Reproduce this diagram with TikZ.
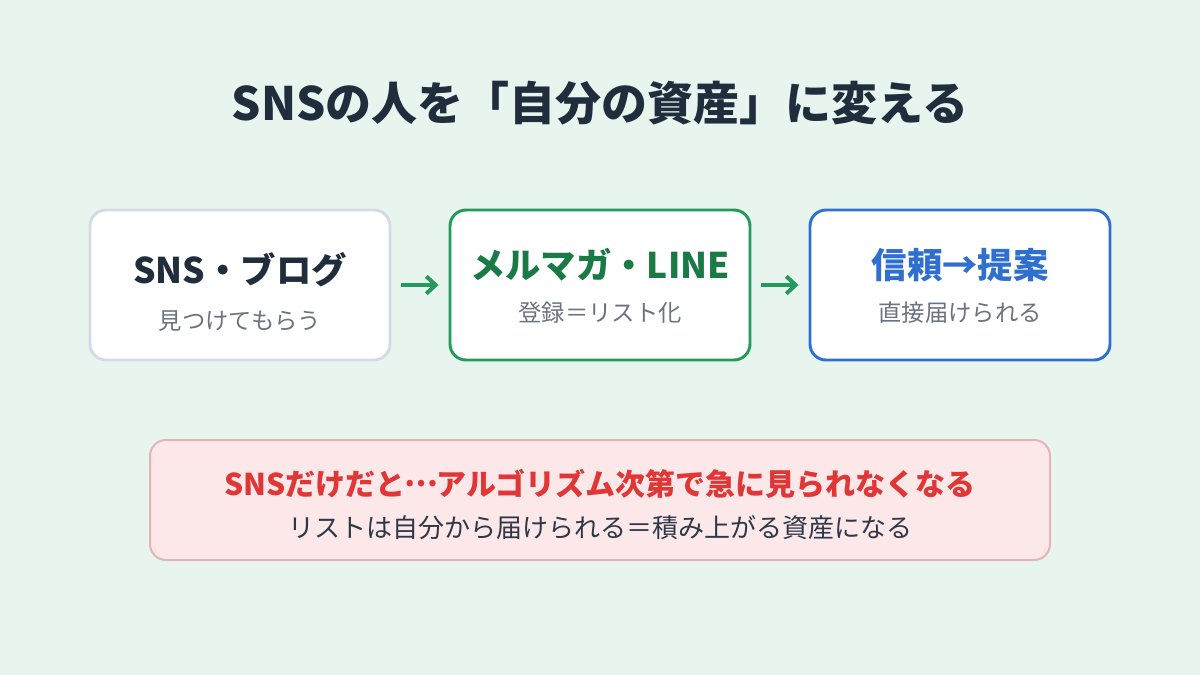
\documentclass[tikz,border=0pt]{standalone}
\usepackage{fontspec}
\setmainfont{Noto Sans CJK JP}
\usetikzlibrary{arrows.meta}
\definecolor{bg}{HTML}{E8F5EE}
\definecolor{ink}{HTML}{1F2D3D}
\definecolor{sub}{HTML}{6B7280}
\definecolor{graybd}{HTML}{D3DCE6}
\definecolor{greenbd}{HTML}{239A5B}
\definecolor{greentx}{HTML}{1A7A45}
\definecolor{bluebd}{HTML}{2F6FD0}
\definecolor{redtx}{HTML}{E03636}
\definecolor{redfill}{HTML}{FCE8E8}
\definecolor{redbd}{HTML}{E6B4B4}
\definecolor{dark2}{HTML}{2D3748}
\tikzset{
  card/.style={rounded corners=12pt, line width=2.2pt, fill=white, minimum width=225pt, minimum height=112.5pt},
  ttl/.style={font=\bfseries\fontsize{26.5}{30}\selectfont, inner sep=0pt},
  subt/.style={font=\fontsize{17.5}{20}\selectfont, text=sub, inner sep=0pt},
  flow/.style={draw=greenbd, line width=3pt, -{Straight Barb[length=7pt,width=13pt,line width=3pt]}, shorten <=7.5pt, shorten >=7.5pt}
}
\begin{document}
\begin{tikzpicture}[x=0.75pt,y=-0.75pt]
\useasboundingbox (0,0) rectangle (1200,675);
\fill[bg] (0,0) rectangle (1200,675);
\node[font=\bfseries\fontsize{34.5}{38}\selectfont, text=ink, inner sep=0pt] (title) at (600,103) {SNSの人を「自分の資産」に変える};

\node[card, draw=graybd] (b1) at (240,285) {};
\node[card, draw=greenbd] (b2) at (600,285) {};
\node[card, draw=bluebd] (b3) at (960,285) {};

\node[ttl, text=ink] (t1) at (240,270) {SNS・ブログ};
\node[subt] (s1) at (240,321) {見つけてもらう};
\node[ttl, text=greentx] (t2) at (600,265) {メルマガ・LINE};
\node[subt] (s2) at (600,313) {登録＝リスト化};
\node[ttl, text=bluebd] (t3) at (960,265) {信頼→提案};
\node[subt] (s3) at (960,313) {直接届けられる};

\draw[flow] (b1.east) -- (b2.west);
\draw[flow] (b2.east) -- (b3.west);

\node[rounded corners=12pt, line width=1.5pt, draw=redbd, fill=redfill, minimum width=675pt, minimum height=90pt] (warn) at (600,500) {};
\node[font=\bfseries\fontsize{22.5}{26}\selectfont, text=redtx, inner sep=0pt] (w1) at (600,484) {SNSだけだと\raisebox{0.3em}{\kern-0.05em…\kern-0.05em}アルゴリズム次第で急に見られなくなる};
\node[font=\fontsize{19.5}{23}\selectfont, text=dark2, inner sep=0pt] (w2) at (600,528) {リストは自分から届けられる＝積み上がる資産になる};
\end{tikzpicture}
\end{document}
